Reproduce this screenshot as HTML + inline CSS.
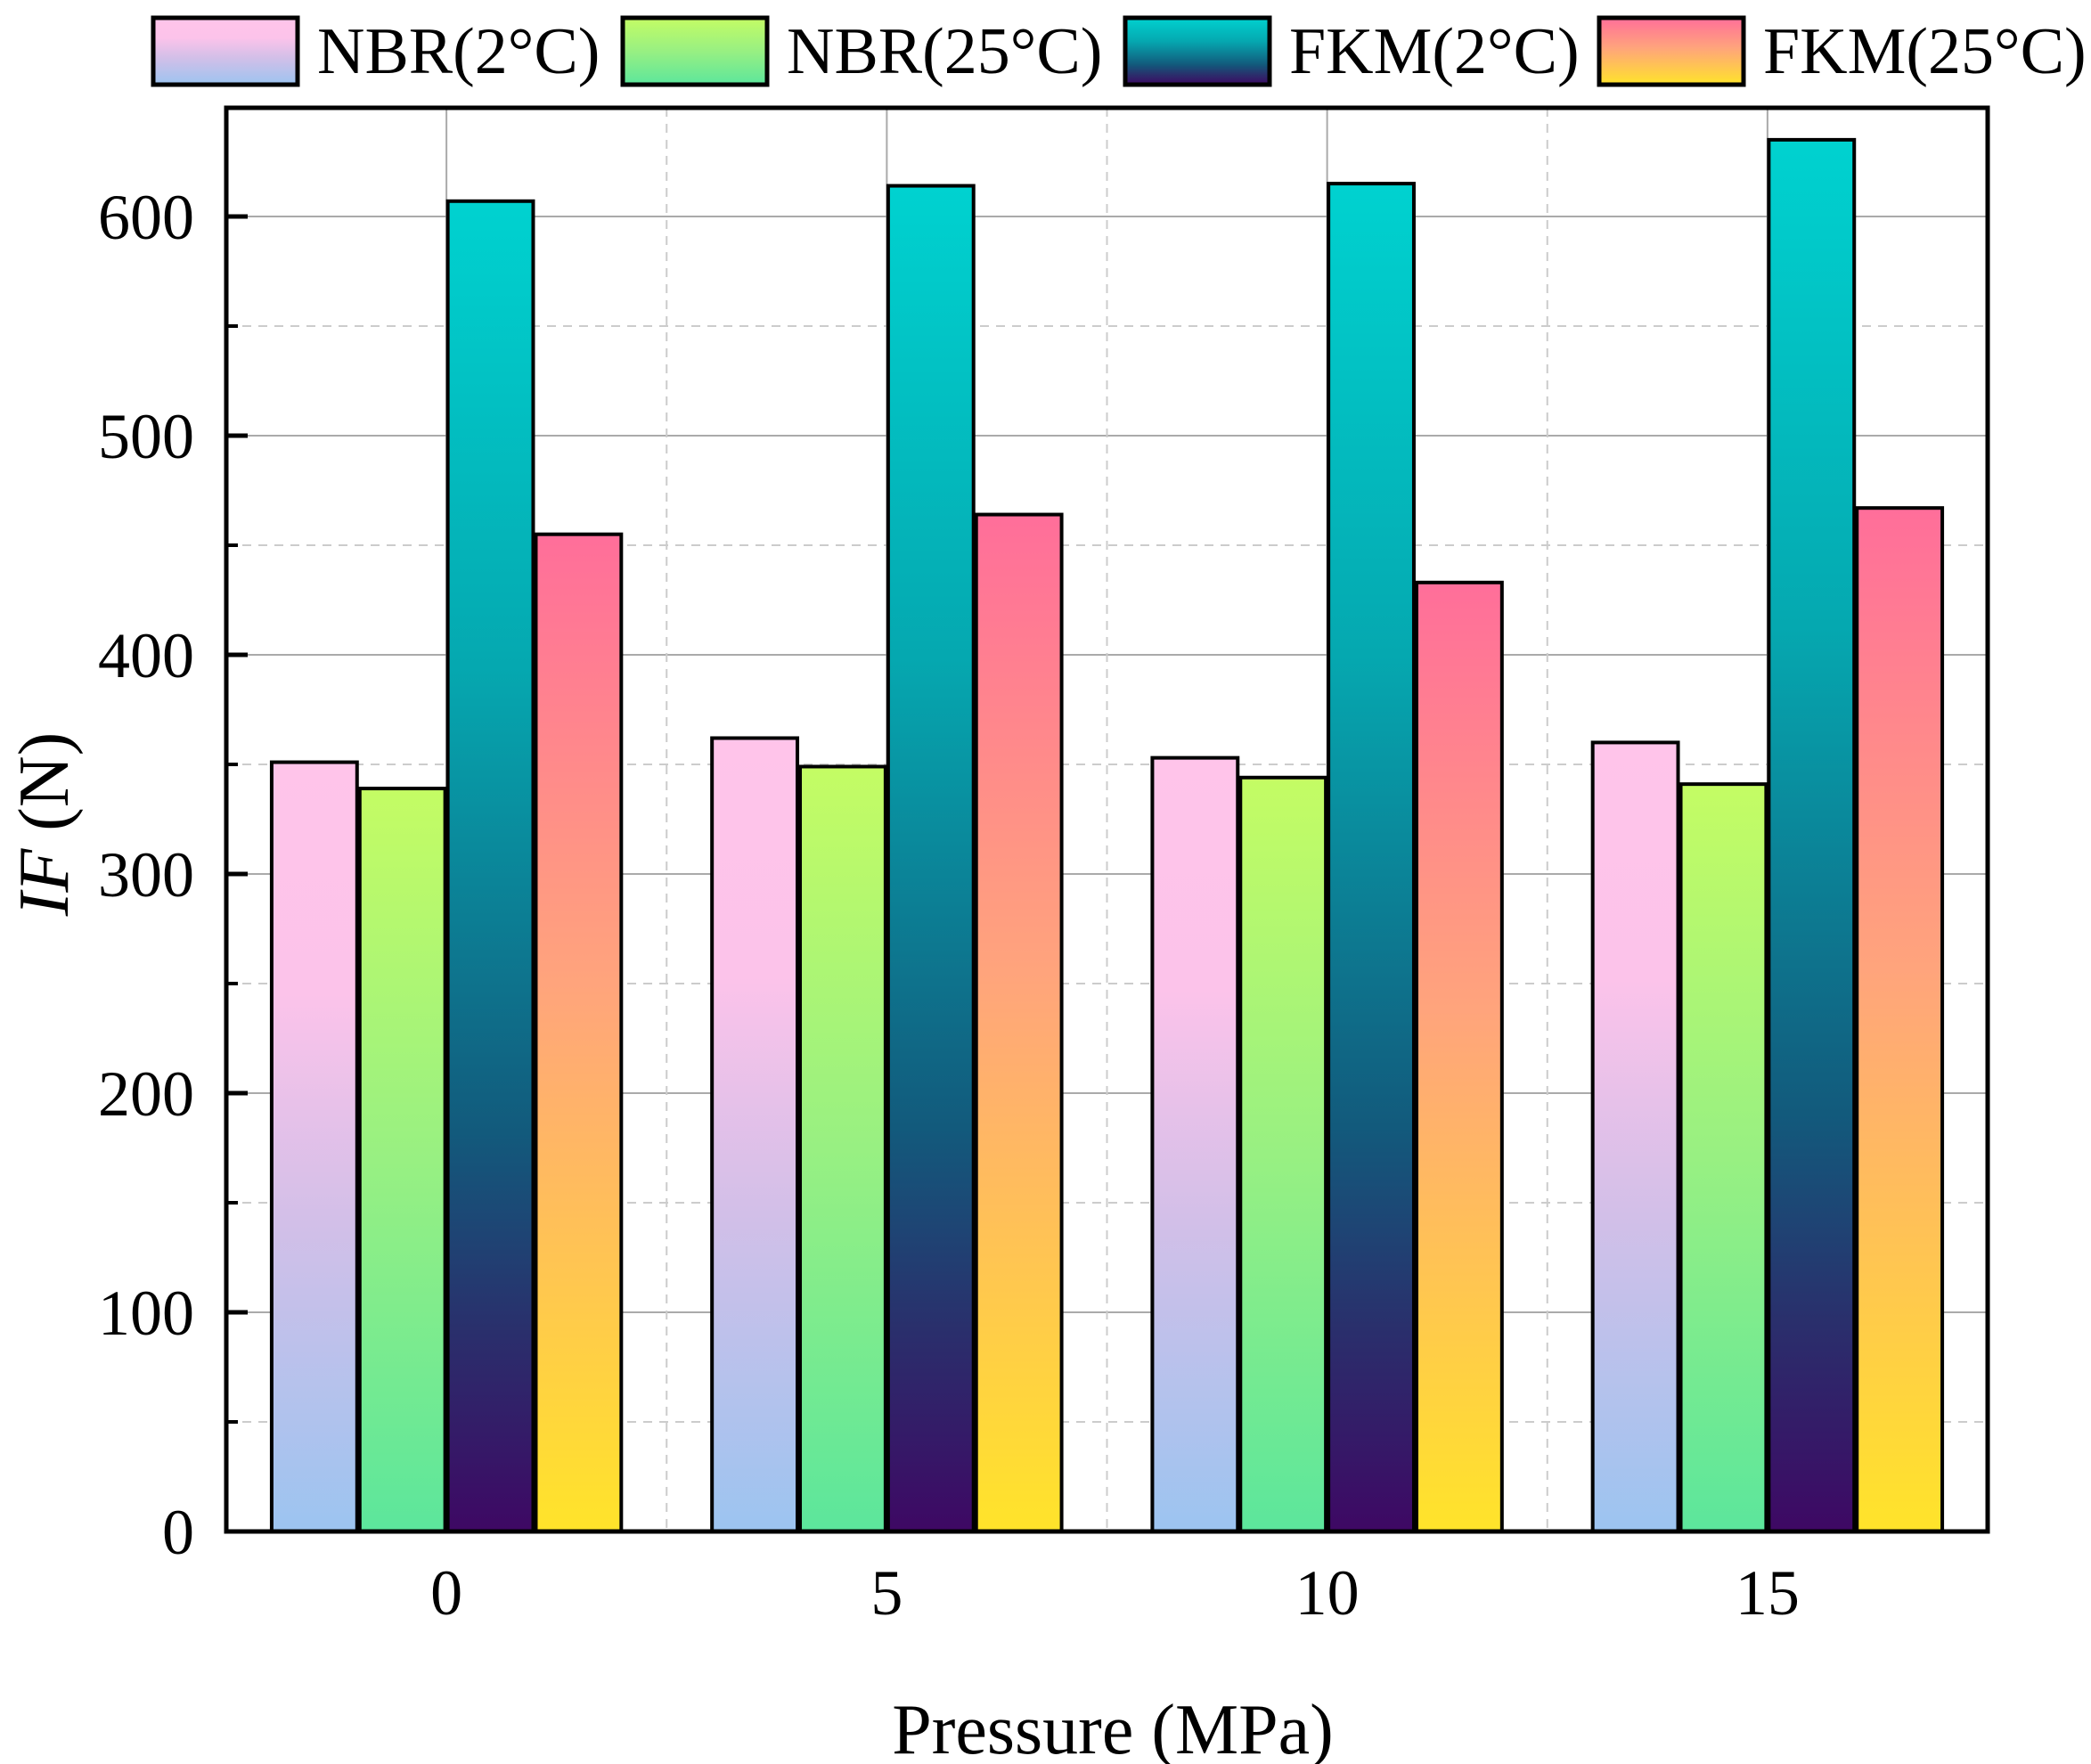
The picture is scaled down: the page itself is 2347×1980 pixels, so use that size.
<!DOCTYPE html>
<html><head><meta charset="utf-8"><style>
html,body{margin:0;padding:0;background:#fff}
svg{display:block}
text{font-family:"Liberation Serif",serif;fill:#000}
</style></head><body>
<svg id="chart" width="2347" height="1980" viewBox="0 0 2347 1980" xmlns="http://www.w3.org/2000/svg">
<defs>
<linearGradient id="g0" x1="0" y1="0" x2="0" y2="1"><stop offset="0" stop-color="#ffc4ea"/><stop offset="0.3" stop-color="#fcc3ea"/><stop offset="0.6" stop-color="#d2bfe8"/><stop offset="1" stop-color="#9cc4f0"/></linearGradient>
<linearGradient id="g1" x1="0" y1="0" x2="0" y2="1"><stop offset="0" stop-color="#c4fc64"/><stop offset="0.5" stop-color="#98f082"/><stop offset="1" stop-color="#5ce69c"/></linearGradient>
<linearGradient id="g2" x1="0" y1="0" x2="0" y2="1"><stop offset="0" stop-color="#00d2d0"/><stop offset="0.35" stop-color="#05a8b0"/><stop offset="0.7" stop-color="#125a7c"/><stop offset="0.85" stop-color="#2a2f6c"/><stop offset="1" stop-color="#3e0864"/></linearGradient>
<linearGradient id="g3" x1="0" y1="0" x2="0" y2="1"><stop offset="0" stop-color="#ff6e9a"/><stop offset="0.45" stop-color="#ffa47c"/><stop offset="1" stop-color="#ffe42a"/></linearGradient>
</defs>
<g id="grid"></g>
<g id="bars"></g>
<rect x="254" y="121" width="1977" height="1598" fill="none" stroke="#000" stroke-width="5"/>
<g id="ticks"></g>
<text x="1249" y="1968" font-size="80" text-anchor="middle">Pressure (MPa)</text>
<text transform="translate(76,925) rotate(-90)" font-size="80" text-anchor="middle"><tspan font-style="italic">IF</tspan> (N)</text>
<g id="legend"></g>
</svg>
<script>
const categories = ["0","5","10","15"];
const seriesNames = ["NBR(2°C)","NBR(25°C)","FKM(2°C)","FKM(25°C)"];
const nbr2 = [351, 362, 353, 360];
const nbr25 = [339, 349, 344, 341];
const fkm2 = [607, 614, 615, 635];
const fkm25 = [455, 464, 433, 467];
const yTicks = [0,100,200,300,400,500,600];
const yMinor = [50,150,250,350,450,550];

const NS="http://www.w3.org/2000/svg";
const series=[nbr2,nbr25,fkm2,fkm25];
const L=254,R=2231,T=121,B=1719;
const U=(R-L)/20;
const y=v=>B-v*(B-243)/600;
const x=u=>L+(u+2.5)*U;
function mk(tag,attrs,parent){const e=document.createElementNS(NS,tag);for(const k in attrs)e.setAttribute(k,attrs[k]);parent.appendChild(e);return e;}
const grid=document.getElementById('grid'),bars=document.getElementById('bars'),ticks=document.getElementById('ticks'),legend=document.getElementById('legend');
yTicks.forEach(v=>{
  if(v>0){const g=mk('line',{x1:L,x2:R,y1:y(v),y2:y(v),stroke:'#aaa','stroke-width':2},grid);
  
  }
  const t=mk('line',{x1:L,x2:L+24,y1:y(v),y2:y(v),stroke:'#000','stroke-width':5},ticks);
  
  
  const lb=mk('text',{x:218,y:y(v)+25,'font-size':72,'text-anchor':'end'},ticks);lb.textContent=v;
  
  
});
yMinor.forEach(v=>{
  const g=mk('line',{x1:L,x2:R,y1:y(v),y2:y(v),stroke:'#ccc','stroke-width':2,'stroke-dasharray':'10 8'},grid);
  
  
  const t=mk('line',{x1:L,x2:L+13,y1:y(v),y2:y(v),stroke:'#000','stroke-width':4},ticks);
  
  
});
categories.forEach((c,i)=>{
  const cx=x(i*5);
  const g=mk('line',{x1:cx,x2:cx,y1:T,y2:B,stroke:'#aaa','stroke-width':2},grid);
  
  
  if(i<categories.length-1){const d=mk('line',{x1:x(i*5+2.5),x2:x(i*5+2.5),y1:T,y2:B,stroke:'#ccc','stroke-width':2,'stroke-dasharray':'10 8'},grid);
  
  }
  const lb=mk('text',{x:cx,y:1812,'font-size':72,'text-anchor':'middle'},ticks);lb.textContent=c;
  
  
  series.forEach((s,j)=>{
    const bx=cx-2*U+j*U;
    const r=mk('rect',{x:bx+1.5,y:y(s[i]),width:U-3,height:B-y(s[i]),fill:'url(#g'+j+')',stroke:'#000','stroke-width':4},bars);
    
    
  });
});
const legX=[170,697,1261,1793];
seriesNames.forEach((n,j)=>{
  const r=mk('rect',{x:legX[j]+2,y:20,width:162,height:75,fill:'url(#g'+j+')',stroke:'#000','stroke-width':5},legend);
  
  
  const t=mk('text',{x:legX[j]+186,y:82,'font-size':74},legend);t.textContent=n;
  
  
});
</script>
</body></html>
